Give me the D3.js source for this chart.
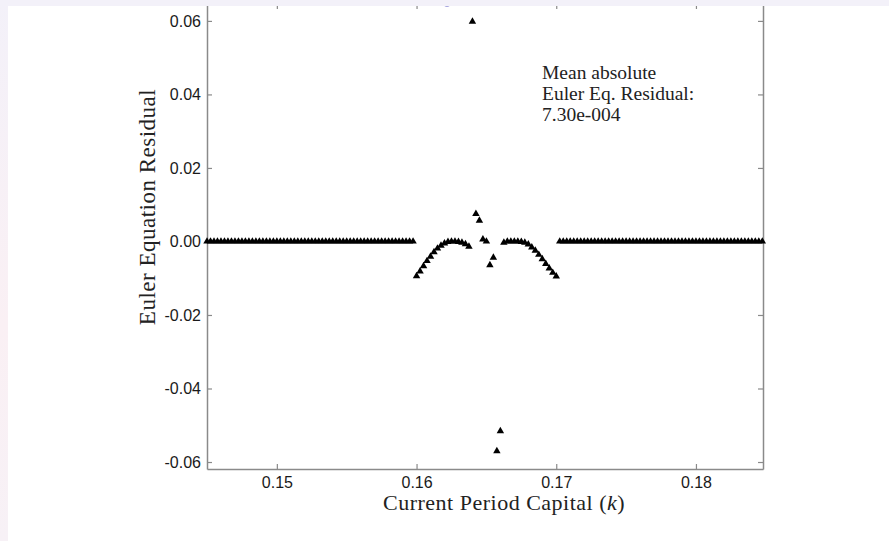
<!DOCTYPE html>
<html>
<head>
<meta charset="utf-8">
<script src="https://cdn.jsdelivr.net/npm/d3@7"></script>
<style>
  html, body { margin: 0; padding: 0; background: #fff; }
  svg { display: block; }
</style>
</head>
<body>
<svg id="chart" width="889" height="541"></svg>
<script>
// capital grid points where the residual is flat at zero
const kFlatLeft = [
  0.14500, 0.14525, 0.14550, 0.14575, 0.14600, 0.14625, 0.14650, 0.14675,
  0.14700, 0.14725, 0.14750, 0.14775, 0.14800, 0.14825, 0.14850, 0.14875,
  0.14900, 0.14925, 0.14950, 0.14975, 0.15000, 0.15025, 0.15050, 0.15075,
  0.15100, 0.15125, 0.15150, 0.15175, 0.15200, 0.15225, 0.15250, 0.15275,
  0.15300, 0.15325, 0.15350, 0.15375, 0.15400, 0.15425, 0.15450, 0.15475,
  0.15500, 0.15525, 0.15550, 0.15575, 0.15600, 0.15625, 0.15650, 0.15675,
  0.15700, 0.15725, 0.15750, 0.15775, 0.15800, 0.15825, 0.15850, 0.15875,
  0.15900, 0.15925, 0.15950, 0.15975
];
const kFlatRight = [
  0.17025, 0.17050, 0.17075, 0.17100, 0.17125, 0.17150, 0.17175, 0.17200,
  0.17225, 0.17250, 0.17275, 0.17300, 0.17325, 0.17350, 0.17375, 0.17400,
  0.17425, 0.17450, 0.17475, 0.17500, 0.17525, 0.17550, 0.17575, 0.17600,
  0.17625, 0.17650, 0.17675, 0.17700, 0.17725, 0.17750, 0.17775, 0.17800,
  0.17825, 0.17850, 0.17875, 0.17900, 0.17925, 0.17950, 0.17975, 0.18000,
  0.18025, 0.18050, 0.18075, 0.18100, 0.18125, 0.18150, 0.18175, 0.18200,
  0.18225, 0.18250, 0.18275, 0.18300, 0.18325, 0.18350, 0.18375, 0.18400,
  0.18425, 0.18450, 0.18475
];
const flatResidual = 0.0;

// left arc 0.160 - 0.16375
const kArcLeft = [
  0.16000, 0.16025, 0.16050, 0.16075, 0.16100, 0.16125, 0.16150, 0.16175,
  0.16200, 0.16225, 0.16250, 0.16275, 0.16300, 0.16325, 0.16350, 0.16375
];
const resArcLeft = [
  -0.0094, -0.0081, -0.0067, -0.0053, -0.0041, -0.0029, -0.0019, -0.0011,
  -0.0005, -0.0001, 0.0000, 0.0000, -0.0001, -0.0003, -0.0007, -0.0014
];

// scattered points in the kink region
const kMid = [0.16400, 0.16425, 0.16450, 0.16475, 0.16500, 0.16525, 0.16550, 0.16575, 0.16600];
const resMid = [0.0598, 0.0075, 0.0057, 0.0006, 0.0000, -0.0064, -0.0044, -0.0570, -0.0516];

// right arc 0.16625 - 0.170
const kArcRight = [
  0.16625, 0.16650, 0.16675, 0.16700, 0.16725, 0.16750, 0.16775, 0.16800,
  0.16825, 0.16850, 0.16875, 0.16900, 0.16925, 0.16950, 0.16975, 0.17000
];
const resArcRight = [
  -0.0003, 0.0000, 0.0000, 0.0000, 0.0000, -0.0001, -0.0003, -0.0008,
  -0.0016, -0.0025, -0.0036, -0.0048, -0.0061, -0.0073, -0.0085, -0.0095
];

const xTicks = [0.15, 0.16, 0.17, 0.18];
const xTickLabels = ["0.15", "0.16", "0.17", "0.18"];
const yTicks = [-0.06, -0.04, -0.02, 0, 0.02, 0.04, 0.06];
const yTickLabels = ["-0.06", "-0.04", "-0.02", "0.00", "0.02", "0.04", "0.06"];

const annotation = ["Mean absolute", "Euler Eq. Residual:", "7.30e-004"];

// ---------------------------------------------------------------

const width = 889, height = 541;
const margin = { top: 4, right: 126, bottom: 72, left: 207 };

const svg = d3.select("#chart");

const x = d3.scaleLinear()
  .domain([0.145, 0.1848])
  .range([margin.left, width - margin.right]);
const y = d3.scaleLinear()
  .domain([-0.0619, 0.0646])
  .range([height - margin.bottom, margin.top]);

const points = [];
kFlatLeft.forEach(k => points.push({ k: k, r: flatResidual }));
kArcLeft.forEach((k, i) => points.push({ k: k, r: resArcLeft[i] }));
kMid.forEach((k, i) => points.push({ k: k, r: resMid[i] }));
kArcRight.forEach((k, i) => points.push({ k: k, r: resArcRight[i] }));
kFlatRight.forEach(k => points.push({ k: k, r: flatResidual }));

const axisColor = "#8a8a8a";
function styleAxis(g) {
  g.select(".domain").attr("stroke", axisColor).attr("stroke-width", 1.5);
  g.selectAll(".tick line").attr("stroke", axisColor).attr("stroke-width", 1.2);
  g.selectAll(".tick text")
    .attr("fill", "#1a1a1a")
    .style("font-family", "'Liberation Sans', Arial, sans-serif")
    .style("font-size", "16px");
}

// frame axes
svg.append("g")
  .attr("transform", `translate(0,${height - margin.bottom})`)
  .call(d3.axisBottom(x).tickValues(xTicks).tickFormat((d, i) => xTickLabels[i])
    .tickSizeInner(-5).tickSizeOuter(0).tickPadding(8))
  .call(styleAxis);

svg.append("g")
  .attr("transform", `translate(0,${margin.top})`)
  .call(d3.axisTop(x).tickValues(xTicks).tickFormat("")
    .tickSizeInner(-5).tickSizeOuter(0))
  .call(styleAxis);

svg.append("g")
  .attr("transform", `translate(${margin.left},0)`)
  .call(d3.axisLeft(y).tickValues(yTicks).tickFormat((d, i) => yTickLabels[i])
    .tickSizeInner(-5).tickSizeOuter(0).tickPadding(6))
  .call(styleAxis);

svg.append("g")
  .attr("transform", `translate(${width - margin.right},0)`)
  .call(d3.axisRight(y).tickValues(yTicks).tickFormat("")
    .tickSizeInner(-5).tickSizeOuter(0))
  .call(styleAxis);

// markers
const tri = d3.symbol().type(d3.symbolTriangle).size(24);
svg.append("g")
  .selectAll("path")
  .data(points)
  .join("path")
    .attr("d", tri)
    .attr("transform", d => `translate(${x(d.k)},${y(d.r)})`)
    .attr("fill", "#000");

// axis titles
const serif = "'Liberation Serif', 'Times New Roman', serif";
svg.append("text")
  .attr("x", 383)
  .attr("y", 510)
  .style("font-family", serif)
  .style("font-size", "22px")
  .style("letter-spacing", "0.5px")
  .attr("fill", "#222")
  .html("Current Period Capital (<tspan font-style='italic'>k</tspan>)");

svg.append("text")
  .attr("transform", "translate(155,207) rotate(-90)")
  .attr("text-anchor", "middle")
  .style("font-family", serif)
  .style("font-size", "23px")
  .style("letter-spacing", "0.5px")
  .attr("fill", "#222")
  .text("Euler Equation Residual");

// annotation
const note = svg.append("text")
  .attr("x", 542)
  .attr("y", 79)
  .style("font-family", serif)
  .style("font-size", "19.5px")
  .attr("fill", "#222");
note.selectAll("tspan")
  .data(annotation)
  .join("tspan")
    .attr("x", 542)
    .attr("dy", (d, i) => i === 0 ? 0 : 21)
    .text(d => d);

// page edges from the screenshot
svg.append("circle").attr("cx", 447).attr("cy", 4).attr("r", 3).attr("fill", "#a3a1dc");
const grad = svg.append("defs").append("linearGradient")
  .attr("id", "edge").attr("x1", 0).attr("y1", 0).attr("x2", 0).attr("y2", 1);
grad.append("stop").attr("offset", "0%").attr("stop-color", "#f3f1f9");
grad.append("stop").attr("offset", "60%").attr("stop-color", "#faf0f4");
grad.append("stop").attr("offset", "100%").attr("stop-color", "#f7f1f6");
svg.append("rect").attr("x", 0).attr("y", 0).attr("width", 8).attr("height", height).attr("fill", "url(#edge)");
svg.append("rect").attr("x", 0).attr("y", 0).attr("width", width).attr("height", 6).attr("fill", "#f3f1f9");
</script>
</body>
</html>
